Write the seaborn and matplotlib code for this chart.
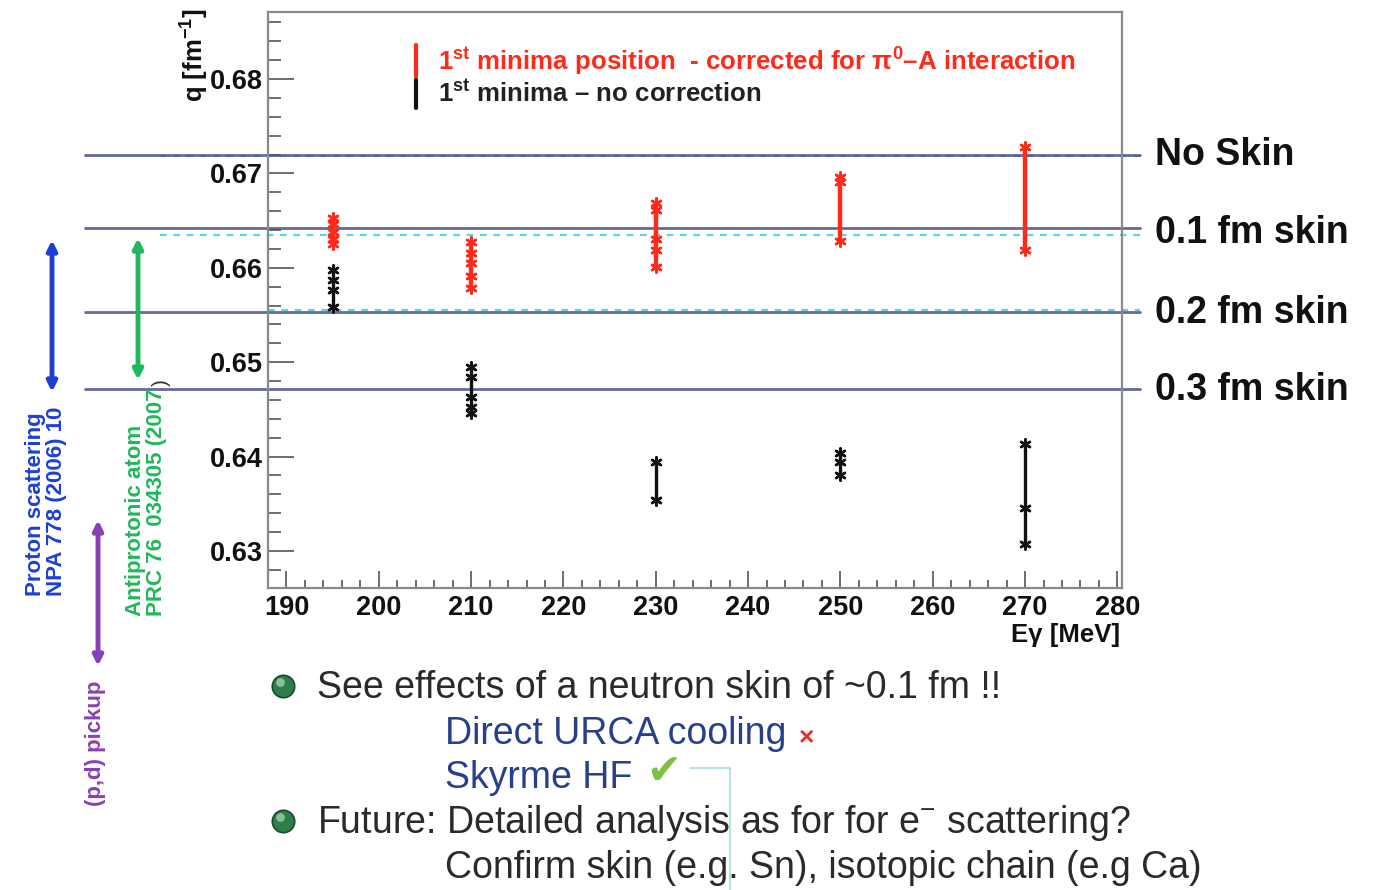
import numpy as np
import pandas as pd
import matplotlib
matplotlib.use("Agg")
import matplotlib.pyplot as plt
import matplotlib.transforms as mtransforms
import seaborn as sns

# ---------------- data ----------------
energies = [195, 210, 230, 250, 270]
corrected_q = [
    [0.6653, 0.6646, 0.6638, 0.6630, 0.6625],
    [0.6627, 0.6616, 0.6605, 0.6591, 0.6579],
    [0.6669, 0.6661, 0.6630, 0.6619, 0.6601],
    [0.6696, 0.6691, 0.6628],
    [0.6728, 0.6619],
]
uncorrected_q = [
    [0.6598, 0.6587, 0.6577, 0.6559],
    [0.6495, 0.6484, 0.6463, 0.6453, 0.6446],
    [0.6394, 0.6354],
    [0.6404, 0.6394, 0.6381],
    [0.6413, 0.6346, 0.6307],
]
skin_labels = ["No Skin", "0.1 fm skin", "0.2 fm skin", "0.3 fm skin"]
skin_q = [0.6720, 0.6642, 0.6553, 0.6472]
skin_q_cyan = [0.6718, 0.6635, 0.6555]
x_ticks = [190, 200, 210, 220, 230, 240, 250, 260, 270, 280]
y_ticks = [0.63, 0.64, 0.65, 0.66, 0.67, 0.68]

legend_labels = [r"1$^{\mathbf{st}}$ minima position  - corrected for $\mathbf{\pi^{0}}$–A interaction",
                 r"1$^{\mathbf{st}}$ minima – no correction"]

def to_long(qlists, name):
    rows = []
    for e, qs in zip(energies, qlists):
        for q in qs:
            rows.append({"E": e, "q": q, "series": name})
    return pd.DataFrame(rows)

df_corr = to_long(corrected_q, "corrected")
df_unc = to_long(uncorrected_q, "uncorrected")

# ---------------- style ----------------
sns.set_theme(style="white")
plt.rcParams["font.family"] = ["Liberation Sans", "DejaVu Sans"]
plt.rcParams["mathtext.fontset"] = "custom"
plt.rcParams["mathtext.rm"] = "Liberation Sans"
plt.rcParams["mathtext.bf"] = "Liberation Sans:bold"
plt.rcParams["mathtext.it"] = "Liberation Sans:italic"

W, H = 1375, 890
fig = plt.figure(figsize=(W / 100, H / 100), dpi=100)
fig.patch.set_facecolor("white")
ax = fig.add_axes([268 / W, 1 - 588 / H, (1122 - 268) / W, (588 - 12) / H])
ov = fig.add_axes([0, 0, 1, 1], facecolor="none")
ov.set_xlim(0, W)
ov.set_ylim(H, 0)
ov.axis("off")

RED = "#ff2a1a"
BLACK = "#111111"

# connecting vertical lines
sns.lineplot(data=df_corr, x="E", y="q", units="E", estimator=None, sort=True,
             color=RED, lw=3.2, ax=ax, zorder=4, legend=False)
sns.lineplot(data=df_unc, x="E", y="q", units="E", estimator=None, sort=True,
             color=BLACK, lw=2.4, ax=ax, zorder=4, legend=False)
# star markers
sns.scatterplot(data=df_corr, x="E", y="q", marker=(6, 2, 0), s=55, color=RED,
                edgecolor=RED, linewidth=1.8, ax=ax, zorder=5, legend=False)
sns.scatterplot(data=df_unc, x="E", y="q", marker=(6, 2, 0), s=55, color=BLACK,
                edgecolor=BLACK, linewidth=1.8, ax=ax, zorder=5, legend=False)

ax.set_xlim(188, 280.5)
ax.set_ylim(0.62608, 0.6871)
ax.set_xticks(x_ticks, labels=[str(v) for v in x_ticks])
ax.set_yticks(y_ticks, labels=[f"{v:.2f}" for v in y_ticks])
ax.xaxis.set_minor_locator(matplotlib.ticker.MultipleLocator(2))
ax.yaxis.set_minor_locator(matplotlib.ticker.MultipleLocator(0.002))
ax.tick_params(axis="both", which="both", direction="in", color="#555555", width=1.2,
               top=False, right=False, bottom=True, left=True, labelcolor="#111111")
ax.tick_params(axis="x", which="major", length=12, pad=5, labelsize=19.5)
ax.tick_params(axis="x", which="minor", length=6)
ax.tick_params(axis="y", which="major", length=19, pad=4, labelsize=19.5)
ax.tick_params(axis="y", which="minor", length=9.5)
for lab in ax.get_xticklabels() + ax.get_yticklabels():
    lab.set_fontweight("bold")
for sp in ax.spines.values():
    sp.set_color("#8a8a8a")
    sp.set_linewidth(1.6)
ax.set_xlabel("")
ax.set_ylabel("")

# skin reference lines (data y, pixel x extending outside the axes)
blend = mtransforms.blended_transform_factory(ov.transData, ax.transData)
for q in skin_q:
    ax.plot([85, 1140], [q, q], transform=blend, color="#4a4f8a", lw=2.0, alpha=0.85,
            clip_on=False, zorder=2)
for q, x0 in zip(skin_q_cyan, [160, 160, 268]):
    ax.plot([x0, 1140], [q, q], transform=blend, color="#5ad7e6", lw=1.6, ls=(0, (3, 3)),
            clip_on=False, zorder=1.5)

# right-side labels
for lab, ypx in zip(skin_labels, [155, 233, 313, 390]):
    ov.text(1155, ypx, lab, fontsize=27, fontweight="bold", color="#111111",
            ha="left", va="center")

# axis titles
ov.text(195, 8, r"q [fm$^{\mathbf{-1}}$]", rotation=90, fontsize=18.5, fontweight="bold",
        ha="center", va="top", color="#111111")
ov.text(1120, 635, "Eγ [MeV]", fontsize=18.5, fontweight="bold", ha="right", va="center",
        color="#111111")

# legend
ov.plot([416, 416], [45, 77], color=RED, lw=3)
ov.plot([416, 416], [80, 108], color=BLACK, lw=3)
ov.text(438, 62, legend_labels[0], fontsize=18.6, fontweight="bold", color=RED,
        ha="left", va="center")
ov.text(438, 93, legend_labels[1], fontsize=18.6, fontweight="bold", color="#222222",
        ha="left", va="center")

# left-side annotations
arrow_kw = dict(arrowstyle="<|-|>", mutation_scale=14, lw=3.5, shrinkA=0, shrinkB=0)
ov.annotate("", xy=(52, 240), xytext=(52, 392),
            arrowprops=dict(color="#1d3fd8", **arrow_kw))
ov.annotate("", xy=(138, 238), xytext=(138, 380),
            arrowprops=dict(color="#1fb85a", **arrow_kw))
ov.annotate("", xy=(98, 520), xytext=(98, 666),
            arrowprops=dict(color="#8a40b5", **arrow_kw))
ov.text(46, 596, "Proton scattering\nNPA 778 (2006) 10", rotation=90, fontsize=16,
        fontweight="bold", color="#1d3fd8", ha="center", va="bottom", multialignment="left",
        linespacing=1.05)
ov.text(146, 616, "Antiprotonic atom\nPRC 76  034305 (2007", rotation=90, fontsize=16,
        fontweight="bold", color="#1fb85a", ha="center", va="bottom", multialignment="left",
        linespacing=1.05)
ov.text(161, 383, ")", rotation=90, fontsize=15, color="#333333", ha="center", va="center")
ov.text(96, 806, "(p,d) pickup", rotation=90, fontsize=16, fontweight="bold",
        color="#8a40b5", ha="center", va="bottom")

# bottom bullet text
TXT = "#2a2a2a"
BLUE = "#283f8c"
ov.scatter([283, 283], [686, 821], s=260, color="#2f7d4a", edgecolor="#1c4a2c", lw=1.2, zorder=5)
ov.scatter([280, 280], [682, 817], s=40, color="#9fd3a8", lw=0, zorder=6, alpha=0.8)
ov.text(317, 688, "See effects of a neutron skin of ~0.1 fm !!", fontsize=27, color=TXT,
        ha="left", va="center")
ov.text(445, 734, "Direct URCA cooling", fontsize=27, color=BLUE, ha="left", va="center")
ov.text(799, 738, "×", fontsize=19, fontweight="bold", color="#e8302a", ha="left", va="center")
ov.text(445, 778, "Skyrme HF", fontsize=27, color=BLUE, ha="left", va="center")
ov.text(646, 772, "✔", fontsize=30, color="#7dc142", ha="left", va="center",
        family=["DejaVu Sans"])
ov.plot([690, 730, 730], [768, 768, 890], color="#a6dcdc", lw=1.2)
ov.text(317, 823, "Future: Detailed analysis as for for e$^{-}$ scattering?", fontsize=27,
        color=TXT, ha="left", va="center")
ov.text(445, 868, "Confirm skin (e.g. Sn), isotopic chain (e.g Ca)", fontsize=27,
        color=TXT, ha="left", va="center")

fig.savefig("out.png", dpi=100)
